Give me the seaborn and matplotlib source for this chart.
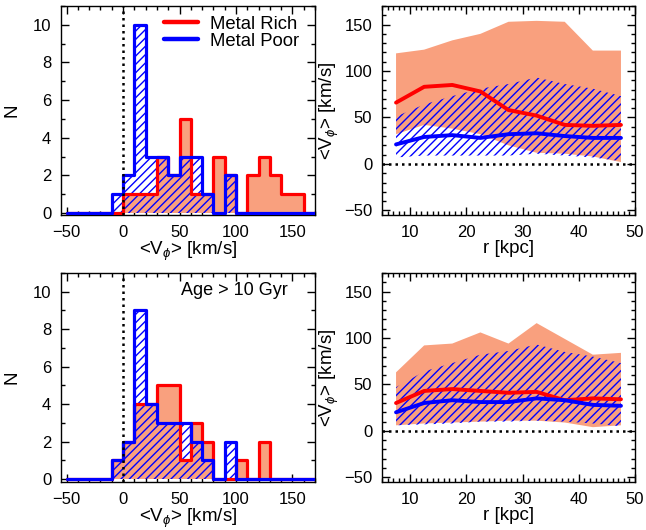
import numpy as np
import pandas as pd
import matplotlib
matplotlib.use("Agg")
import matplotlib.pyplot as plt
import seaborn as sns
from matplotlib.ticker import MultipleLocator
from matplotlib.lines import Line2D

# ---------------- data ----------------
vphi_edges = [-50, -40, -30, -20, -10, 0, 10, 20, 30, 40, 50, 60, 70, 80,
              90, 100, 110, 120, 130, 140, 150, 160, 170]

rich_counts_all = [0, 0, 0, 0, 0, 1, 1, 1, 3, 2, 5, 1, 1, 3, 2, 0, 2, 3, 2, 1, 1, 0]
poor_counts_all = [0, 0, 0, 0, 1, 2, 10, 3, 3, 2, 3, 3, 1, 0, 2, 0, 0, 0, 0, 0, 0, 0]

rich_counts_old = [0, 0, 0, 0, 1, 2, 4, 4, 5, 5, 1, 3, 2, 0, 0, 1, 0, 2, 0, 0, 0, 0]
poor_counts_old = [0, 0, 0, 0, 1, 2, 9, 4, 3, 3, 3, 2, 1, 0, 2, 0, 0, 0, 0, 0, 0, 0]

r_kpc = [7.5, 12.5, 17.5, 22.5, 27.5, 32.5, 37.5, 42.5, 47.5]

rich_mean_all = [66, 83, 85, 78, 58, 52, 42, 41, 42]
rich_hi_all = [119, 123, 133, 140, 153, 154, 153, 122, 122]
rich_lo_all = [32, 42, 38, 32, 20, 12, 11, 8, 2]
poor_mean_all = [21, 29, 31, 28, 32, 33, 30, 28, 28]
poor_hi_all = [51, 64, 73, 81, 86, 93, 86, 81, 73]
poor_lo_all = [7, 9, 9, 9, 9, 11, 9, 7, 3]

rich_mean_old = [30, 43, 45, 43, 41, 42, 33, 35, 34]
rich_hi_old = [63, 92, 94, 106, 94, 116, 99, 82, 84]
rich_lo_old = [6, 8, 9, 10, 11, 11, 9, 4, 6]
poor_mean_old = [20, 30, 33, 31, 31, 35, 33, 28, 27]
poor_hi_old = [47, 64, 73, 82, 86, 93, 85, 80, 73]
poor_lo_old = [6, 7, 8, 10, 10, 11, 10, 8, 5]

labels = ["Metal Rich", "Metal Poor"]
xlabel_v = r"<V$_\phi$> [km/s]"
xlabel_r = "r [kpc]"
age_text = "Age > 10 Gyr"

# ---------------- style ----------------
sns.set_theme(style="ticks")
plt.rcParams["font.family"] = ["Liberation Sans", "DejaVu Sans"]
plt.rcParams["mathtext.fontset"] = "custom"
plt.rcParams["mathtext.rm"] = "Liberation Sans"
plt.rcParams["mathtext.it"] = "Liberation Sans:italic"
plt.rcParams["hatch.linewidth"] = 1.0
plt.rcParams["axes.linewidth"] = 1.0
plt.rcParams["text.color"] = "black"
plt.rcParams["axes.labelcolor"] = "black"
plt.rcParams["xtick.color"] = "black"
plt.rcParams["ytick.color"] = "black"

SALMON = "#F9A07E"
RED = "#FF0000"
BLUE = "#0000FF"
FS = 12
LFS = 13.5

fig = plt.figure(figsize=(6.46, 5.30), dpi=100)
ax_tl = fig.add_axes([0.0944, 0.5943, 0.3932, 0.3944])
ax_tr = fig.add_axes([0.5913, 0.5943, 0.3917, 0.3944])
ax_bl = fig.add_axes([0.0944, 0.0906, 0.3932, 0.3944])
ax_br = fig.add_axes([0.5913, 0.0906, 0.3917, 0.3944])

centers = [0.5 * (a + b) for a, b in zip(vphi_edges[:-1], vphi_edges[1:])]


def style_axes(ax):
    ax.tick_params(which="both", direction="in", top=True, right=True,
                   labelsize=FS, colors="black")
    ax.tick_params(which="major", length=6, width=1, pad=7)
    ax.tick_params(which="minor", length=3, width=1)
    for s in ax.spines.values():
        s.set_color("black")
        s.set_linewidth(1.0)


def hist_panel(ax, rich, poor, ylo):
    dr = pd.DataFrame({"v": centers, "w": rich})
    dp = pd.DataFrame({"v": centers, "w": poor})
    sns.histplot(data=dr, x="v", weights="w", bins=vphi_edges, element="step",
                 fill=True, color=SALMON, facecolor=SALMON, edgecolor="none",
                 linewidth=0, ax=ax, zorder=1)
    sns.histplot(data=dp, x="v", weights="w", bins=vphi_edges, element="step",
                 fill=True, color=BLUE, facecolor="none", edgecolor=BLUE,
                 linewidth=0, hatch="////", ax=ax, zorder=2)
    sns.histplot(data=dr, x="v", weights="w", bins=vphi_edges, element="step",
                 fill=False, color=RED, linewidth=2.3, ax=ax, zorder=3)
    sns.histplot(data=dp, x="v", weights="w", bins=vphi_edges, element="step",
                 fill=False, color=BLUE, linewidth=2.3, ax=ax, zorder=4)
    ax.axvline(0, color="black", ls=(0, (1, 1.6)), lw=1.8, zorder=5)
    ax.set_xlim(-55, 170)
    ax.set_ylim(ylo, 11)
    ax.xaxis.set_major_locator(MultipleLocator(50))
    ax.xaxis.set_minor_locator(MultipleLocator(10))
    ax.yaxis.set_major_locator(MultipleLocator(2))
    ax.yaxis.set_minor_locator(MultipleLocator(1))
    ax.set_xlabel(xlabel_v, fontsize=LFS, labelpad=0)
    ax.set_ylabel("N", fontsize=LFS, labelpad=9)
    style_axes(ax)


def band_panel(ax, rlo, rhi, rmean, plo, phi, pmean):
    ax.fill_between(r_kpc, rlo, rhi, facecolor=SALMON, edgecolor="none",
                    linewidth=0, zorder=1)
    ax.fill_between(r_kpc, plo, phi, facecolor="none", edgecolor=BLUE,
                    hatch="////", linewidth=0, zorder=2)
    ax.axhline(0, color="black", ls=(0, (1, 1.6)), lw=1.8, zorder=3)
    df = pd.DataFrame({"r": r_kpc, "rich": rmean, "poor": pmean})
    sns.lineplot(data=df, x="r", y="rich", color=RED, lw=2.8, ax=ax, zorder=4)
    sns.lineplot(data=df, x="r", y="poor", color=BLUE, lw=2.8, ax=ax, zorder=5)
    ax.set_xlim(5, 50)
    ax.set_ylim(-55, 170)
    ax.xaxis.set_major_locator(MultipleLocator(10))
    ax.xaxis.set_minor_locator(MultipleLocator(1))
    ax.yaxis.set_major_locator(MultipleLocator(50))
    ax.yaxis.set_minor_locator(MultipleLocator(10))
    ax.set_xlabel(xlabel_r, fontsize=LFS, labelpad=0)
    ax.set_ylabel(xlabel_v, fontsize=LFS, labelpad=2)
    style_axes(ax)


hist_panel(ax_tl, rich_counts_all, poor_counts_all, -0.1)
hist_panel(ax_bl, rich_counts_old, poor_counts_old, -0.15)
band_panel(ax_tr, rich_lo_all, rich_hi_all, rich_mean_all,
           poor_lo_all, poor_hi_all, poor_mean_all)
band_panel(ax_br, rich_lo_old, rich_hi_old, rich_mean_old,
           poor_lo_old, poor_hi_old, poor_mean_old)

handles = [Line2D([], [], color=RED, lw=3.2), Line2D([], [], color=BLUE, lw=3.2)]
ax_tl.legend(handles, labels, loc="center left", bbox_to_anchor=(0.405, 0.872),
             frameon=False, fontsize=13.3, handlelength=1.85, handletextpad=0.65,
             borderpad=0, borderaxespad=0, labelspacing=0.0)

ax_bl.text(51, 10.07, age_text, fontsize=13, ha="left", va="center")

fig.savefig("out.png", dpi=100)
